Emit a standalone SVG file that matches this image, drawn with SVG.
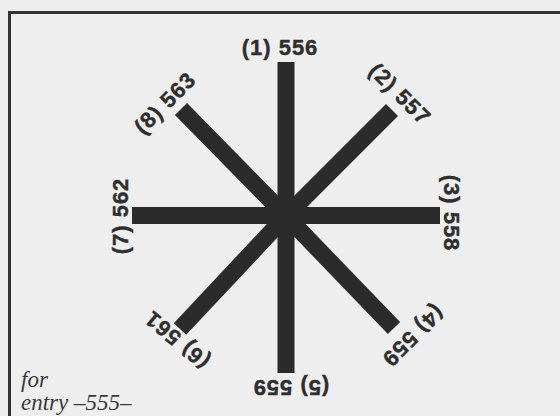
<svg xmlns="http://www.w3.org/2000/svg" width="560" height="416" viewBox="0 0 560 416">
  <style>
    .arm { stroke: #2b2b2b; stroke-width: 17; stroke-linecap: butt; fill: none; }
    .lbl { font-family: "Liberation Sans", Arial, sans-serif; font-weight: bold; font-size: 22px; letter-spacing: 1px; fill: #2e2e2e; stroke: #2e2e2e; stroke-width: 0.4; text-anchor: middle; dominant-baseline: central; }
    .note { font-family: "Liberation Serif", "Times New Roman", serif; font-style: italic; font-size: 23px; fill: #3a3a3a; }
  </style>
  <rect x="0" y="0" width="560" height="416" fill="#eeeeee"/>
  <g id="frame">
    <path d="M9.5 420 L9.5 12.5 L570 12.5" fill="none" stroke="#333" stroke-width="3"/>
  </g>
  <g id="connectors">
    <line class="arm" x1="286" y1="62" x2="286" y2="373"/>
    <line class="arm" x1="132" y1="215.5" x2="440" y2="215.5"/>
    <line class="arm" x1="286" y1="216" x2="181" y2="109"/>
    <line class="arm" x1="286" y1="216" x2="392" y2="110"/>
    <line class="arm" x1="286" y1="216" x2="180" y2="329"/>
    <line class="arm" x1="286" y1="216" x2="394" y2="328"/>
    <circle cx="286" cy="216" r="17" fill="#2b2b2b"/>
  </g>
  <g id="n1"><text class="lbl" x="280" y="47">(1) 556</text></g>
  <g id="n2"><text class="lbl" transform="translate(400 94) rotate(45)">(2) 557</text></g>
  <g id="n3"><text class="lbl" transform="translate(451 213) rotate(90)">(3) 558</text></g>
  <g id="n4"><text class="lbl" transform="translate(413 336) rotate(135)">(4) 559</text></g>
  <g id="n5"><text class="lbl" transform="translate(291 387) rotate(180)">(5) 559</text></g>
  <g id="n6"><text class="lbl" transform="translate(177 340) rotate(-140)">(6) 561</text></g>
  <g id="n7"><text class="lbl" transform="translate(120 216) rotate(-90)">(7) 562</text></g>
  <g id="n8"><text class="lbl" transform="translate(165 103) rotate(-45)">(8) 563</text></g>
  <g id="caption">
    <text class="note"><tspan x="21" y="387">for</tspan><tspan x="21" y="410">entry –555–</tspan></text>
  </g>
</svg>
